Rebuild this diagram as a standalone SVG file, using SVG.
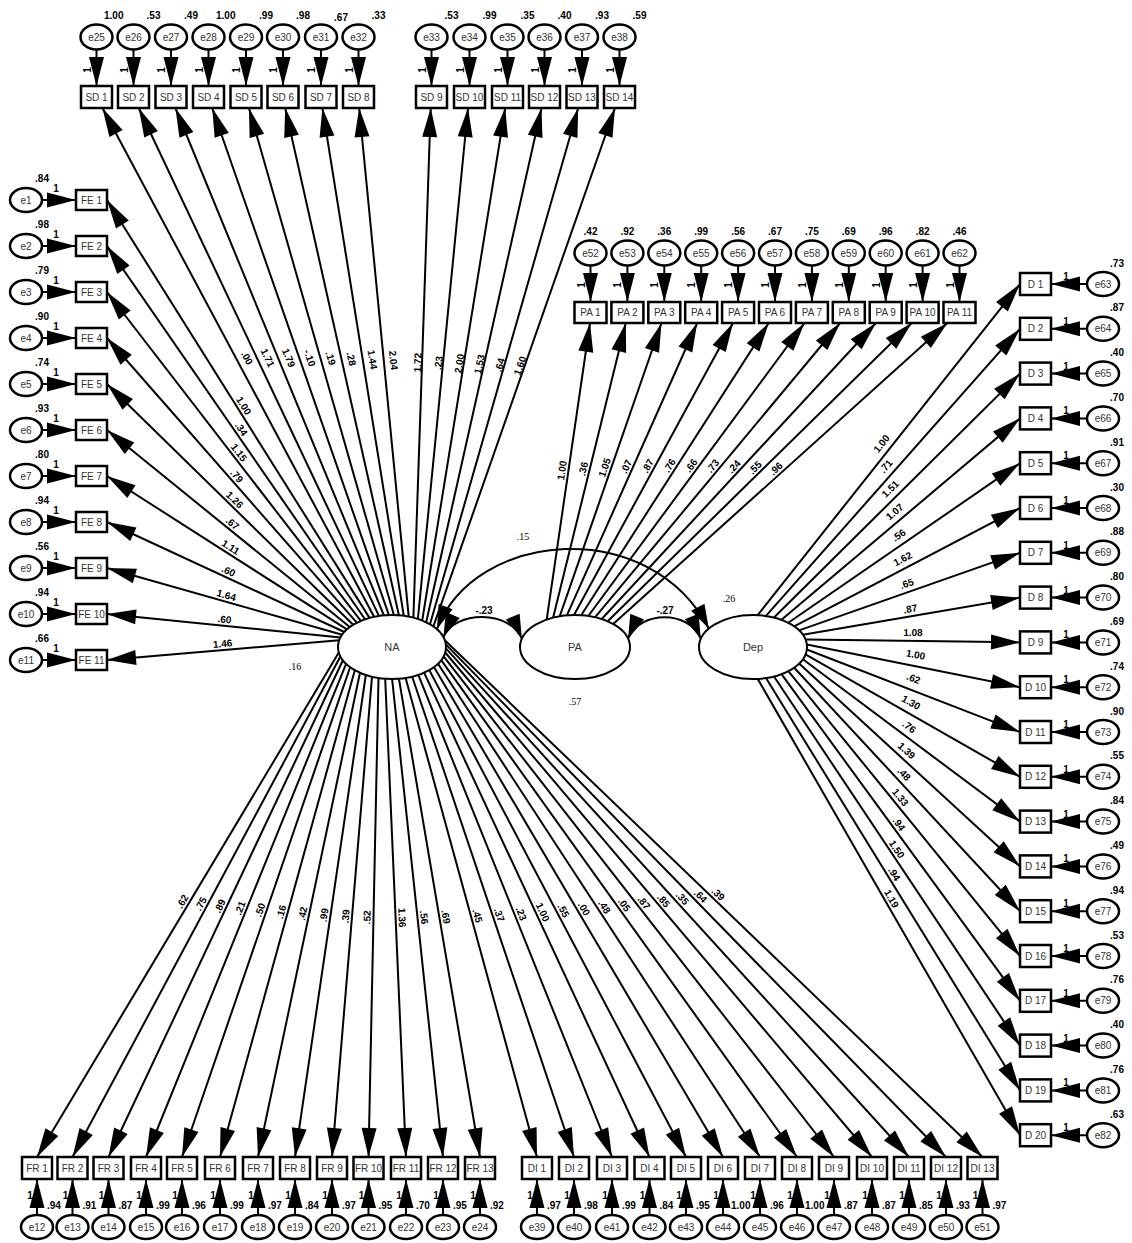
<svg xmlns="http://www.w3.org/2000/svg" width="1132" height="1243" viewBox="0 0 1132 1243">
<defs>
<style>
.bx{fill:#fff;stroke:#000;stroke-width:2.5}
.er{fill:#fff;stroke:#000;stroke-width:2.5}
.lv{fill:#fff;stroke:#000;stroke-width:2}
text{font-family:"Liberation Sans",Arial,sans-serif;font-size:10px}
.t{text-anchor:middle;fill:#333}
.v{font-weight:bold;fill:#000}
.m{text-anchor:middle}
.e{text-anchor:end}
.p{stroke:#000;stroke-width:2;fill:none;marker-end:url(#ah)}
.c{stroke:#000;stroke-width:2;fill:none;marker-start:url(#ah2);marker-end:url(#ah2)}
.sf{font-family:"Liberation Serif","Times New Roman",serif;font-size:10px;text-anchor:middle}
.lt{font-size:11px}
</style>
<marker id="ah" markerUnits="userSpaceOnUse" markerWidth="32" markerHeight="18" viewBox="-31 -9 32 18" refX="0" refY="0" orient="auto"><path d="M0,0 L-29,-7.5 L-29,7.5 Z" fill="#000"/></marker>
<marker id="ah2" markerUnits="userSpaceOnUse" markerWidth="26" markerHeight="18" viewBox="-25 -9 26 18" refX="0" refY="0" orient="auto-start-reverse"><path d="M0,0 L-24,-7.5 L-24,7.5 Z" fill="#000"/></marker>
</defs>
<rect x="0" y="0" width="1132" height="1243" fill="#fff"/>

<g id="connectors">
<path class="p" d="M369.5,617.9 L107,200"/>
<path class="p" d="M365,619.3 L107,246"/>
<path class="p" d="M360.8,620.9 L107,292"/>
<path class="p" d="M356.8,622.7 L107,338"/>
<path class="p" d="M353.2,624.8 L107,384"/>
<path class="p" d="M349.8,627 L107,430"/>
<path class="p" d="M346.9,629.4 L107,476"/>
<path class="p" d="M344.3,632 L107,522"/>
<path class="p" d="M342.2,634.7 L107,568"/>
<path class="p" d="M340.5,637.5 L107,614"/>
<path class="p" d="M339.2,640.3 L107,660"/>
<path class="p" d="M374.1,616.8 L102.4,108"/>
<path class="p" d="M378.9,615.9 L138.7,108"/>
<path class="p" d="M383.9,615.4 L175.4,108"/>
<path class="p" d="M388.9,615.1 L212.2,108"/>
<path class="p" d="M393.9,615 L248.9,108"/>
<path class="p" d="M398.9,615.3 L285.2,108"/>
<path class="p" d="M403.8,615.8 L322.4,108"/>
<path class="p" d="M408.7,616.6 L359.2,108"/>
<path class="p" d="M413.4,617.6 L430.7,108"/>
<path class="p" d="M417.9,618.9 L468,108"/>
<path class="p" d="M422.2,620.5 L505.2,108"/>
<path class="p" d="M426.2,622.2 L541.5,108"/>
<path class="p" d="M430,624.3 L578.2,108"/>
<path class="p" d="M433.4,626.4 L615,108"/>
<path class="p" d="M338.8,652.6 L37,1157"/>
<path class="p" d="M340.4,656.5 L72.5,1157"/>
<path class="p" d="M342.9,660.3 L108.5,1157"/>
<path class="p" d="M346.1,663.9 L146,1157"/>
<path class="p" d="M350.1,667.2 L182,1157"/>
<path class="p" d="M354.8,670.2 L220,1157"/>
<path class="p" d="M360,672.8 L258,1157"/>
<path class="p" d="M365.8,675 L295,1157"/>
<path class="p" d="M372,676.7 L332,1157"/>
<path class="p" d="M378.5,678 L368.5,1157"/>
<path class="p" d="M385.2,678.7 L406,1157"/>
<path class="p" d="M392.1,679 L443,1157"/>
<path class="p" d="M398.9,678.7 L480,1157"/>
<path class="p" d="M405.6,678 L537,1157"/>
<path class="p" d="M412.2,676.7 L574,1157"/>
<path class="p" d="M418.3,674.9 L612,1157"/>
<path class="p" d="M424.1,672.7 L649.5,1157"/>
<path class="p" d="M429.3,670.1 L686,1157"/>
<path class="p" d="M434,667.1 L723,1157"/>
<path class="p" d="M438,663.8 L760,1157"/>
<path class="p" d="M441.2,660.2 L797,1157"/>
<path class="p" d="M443.6,656.4 L834,1157"/>
<path class="p" d="M445.2,652.5 L872,1157"/>
<path class="p" d="M445.9,648.4 L909,1157"/>
<path class="p" d="M445.8,644.4 L946,1157"/>
<path class="p" d="M444.8,640.3 L982.5,1157"/>
<path class="p" d="M546.7,619.6 L590,323"/>
<path class="p" d="M553.1,617.7 L625.8,323"/>
<path class="p" d="M559.8,616.2 L661.5,323"/>
<path class="p" d="M566.9,615.4 L697.2,323"/>
<path class="p" d="M574,615 L733,323"/>
<path class="p" d="M581.2,615.2 L768.7,323"/>
<path class="p" d="M588.3,616 L804.5,323"/>
<path class="p" d="M595.2,617.2 L840.2,323"/>
<path class="p" d="M601.7,619 L875.9,323"/>
<path class="p" d="M607.7,621.3 L911.7,323"/>
<path class="p" d="M613.2,624 L947.4,323"/>
<path class="p" d="M757.7,615.1 L1020,284"/>
<path class="p" d="M766,615.9 L1020,328.8"/>
<path class="p" d="M774,617.5 L1020,373.6"/>
<path class="p" d="M781.5,619.8 L1020,418.4"/>
<path class="p" d="M788.3,622.8 L1020,463.2"/>
<path class="p" d="M794.2,626.3 L1020,508"/>
<path class="p" d="M799.1,630.4 L1020,552.8"/>
<path class="p" d="M802.9,634.8 L1020,597.6"/>
<path class="p" d="M805.5,639.6 L1020,642.4"/>
<path class="p" d="M806.8,644.5 L1020,687.2"/>
<path class="p" d="M806.8,649.5 L1020,732"/>
<path class="p" d="M805.5,654.4 L1020,776.8"/>
<path class="p" d="M802.9,659.2 L1020,821.6"/>
<path class="p" d="M799.1,663.6 L1020,866.4"/>
<path class="p" d="M794.2,667.7 L1020,911.2"/>
<path class="p" d="M788.3,671.2 L1020,956"/>
<path class="p" d="M781.5,674.2 L1020,1000.8"/>
<path class="p" d="M774,676.5 L1020,1045.6"/>
<path class="p" d="M766,678.1 L1020,1090.4"/>
<path class="p" d="M757.7,678.9 L1020,1135.2"/>
<path class="c" d="M443.4,637.1 C455,610 510,610 521.9,638.7"/>
<path class="c" d="M628,638.7 C640,610 689,610 700.8,638.7"/>
<path class="c" d="M437,629 C475,530 650,515 708.8,628.6"/>
<text class="v m" x="484" y="614">-.23</text>
<text class="v m" x="665" y="614">-.27</text>
<text class="sf" x="523" y="540">.15</text>

<path class="p" d="M96.5,49.5 L96.5,86"/><path class="p" d="M133.5,49.5 L133.5,86"/><path class="p" d="M171,49.5 L171,86"/><path class="p" d="M208.5,49.5 L208.5,86"/><path class="p" d="M246,49.5 L246,86"/><path class="p" d="M283,49.5 L283,86"/><path class="p" d="M321,49.5 L321,86"/><path class="p" d="M358.5,49.5 L358.5,86"/><path class="p" d="M431.5,49.5 L431.5,86"/><path class="p" d="M469.5,49.5 L469.5,86"/><path class="p" d="M507.5,49.5 L507.5,86"/><path class="p" d="M544.5,49.5 L544.5,86"/><path class="p" d="M582,49.5 L582,86"/><path class="p" d="M619.5,49.5 L619.5,86"/>
<g class="v m">
<text transform="translate(90.5,70) rotate(-90)">1</text><text transform="translate(127.5,70) rotate(-90)">1</text><text transform="translate(165,70) rotate(-90)">1</text><text transform="translate(202.5,70) rotate(-90)">1</text><text transform="translate(240,70) rotate(-90)">1</text><text transform="translate(277,70) rotate(-90)">1</text><text transform="translate(315,70) rotate(-90)">1</text><text transform="translate(352.5,70) rotate(-90)">1</text><text transform="translate(425.5,70) rotate(-90)">1</text><text transform="translate(463.5,70) rotate(-90)">1</text><text transform="translate(501.5,70) rotate(-90)">1</text><text transform="translate(538.5,70) rotate(-90)">1</text><text transform="translate(576,70) rotate(-90)">1</text><text transform="translate(613.5,70) rotate(-90)">1</text>
</g>
<path class="p" d="M590.5,265.5 L590.5,302"/><path class="p" d="M627.4,265.5 L627.4,302"/><path class="p" d="M664.3,265.5 L664.3,302"/><path class="p" d="M701.2,265.5 L701.2,302"/><path class="p" d="M738.1,265.5 L738.1,302"/><path class="p" d="M775,265.5 L775,302"/><path class="p" d="M811.9,265.5 L811.9,302"/><path class="p" d="M848.8,265.5 L848.8,302"/><path class="p" d="M885.7,265.5 L885.7,302"/><path class="p" d="M922.6,265.5 L922.6,302"/><path class="p" d="M959.5,265.5 L959.5,302"/>
<g class="v m">
<text transform="translate(584.5,285) rotate(-90)">1</text><text transform="translate(621.4,285) rotate(-90)">1</text><text transform="translate(658.3,285) rotate(-90)">1</text><text transform="translate(695.2,285) rotate(-90)">1</text><text transform="translate(732.1,285) rotate(-90)">1</text><text transform="translate(769,285) rotate(-90)">1</text><text transform="translate(805.9,285) rotate(-90)">1</text><text transform="translate(842.8,285) rotate(-90)">1</text><text transform="translate(879.7,285) rotate(-90)">1</text><text transform="translate(916.6,285) rotate(-90)">1</text><text transform="translate(953.5,285) rotate(-90)">1</text>
</g>
<path class="p" d="M42,200 L76,200"/><path class="p" d="M42,246 L76,246"/><path class="p" d="M42,292 L76,292"/><path class="p" d="M42,338 L76,338"/><path class="p" d="M42,384 L76,384"/><path class="p" d="M42,430 L76,430"/><path class="p" d="M42,476 L76,476"/><path class="p" d="M42,522 L76,522"/><path class="p" d="M42,568 L76,568"/><path class="p" d="M42,614 L76,614"/><path class="p" d="M42,660 L76,660"/>
<g class="v m">
<text x="56" y="192">1</text><text x="56" y="238">1</text><text x="56" y="284">1</text><text x="56" y="330">1</text><text x="56" y="376">1</text><text x="56" y="422">1</text><text x="56" y="468">1</text><text x="56" y="514">1</text><text x="56" y="560">1</text><text x="56" y="606">1</text><text x="56" y="652">1</text>
</g>
<path class="p" d="M1087,284 L1051,284"/><path class="p" d="M1087,328.8 L1051,328.8"/><path class="p" d="M1087,373.6 L1051,373.6"/><path class="p" d="M1087,418.4 L1051,418.4"/><path class="p" d="M1087,463.2 L1051,463.2"/><path class="p" d="M1087,508 L1051,508"/><path class="p" d="M1087,552.8 L1051,552.8"/><path class="p" d="M1087,597.6 L1051,597.6"/><path class="p" d="M1087,642.4 L1051,642.4"/><path class="p" d="M1087,687.2 L1051,687.2"/><path class="p" d="M1087,732 L1051,732"/><path class="p" d="M1087,776.8 L1051,776.8"/><path class="p" d="M1087,821.6 L1051,821.6"/><path class="p" d="M1087,866.4 L1051,866.4"/><path class="p" d="M1087,911.2 L1051,911.2"/><path class="p" d="M1087,956 L1051,956"/><path class="p" d="M1087,1000.8 L1051,1000.8"/><path class="p" d="M1087,1045.6 L1051,1045.6"/><path class="p" d="M1087,1090.4 L1051,1090.4"/><path class="p" d="M1087,1135.2 L1051,1135.2"/>
<g class="v m">
<text x="1066" y="280">1</text><text x="1066" y="324.8">1</text><text x="1066" y="369.6">1</text><text x="1066" y="414.4">1</text><text x="1066" y="459.2">1</text><text x="1066" y="504">1</text><text x="1066" y="548.8">1</text><text x="1066" y="593.6">1</text><text x="1066" y="638.4">1</text><text x="1066" y="683.2">1</text><text x="1066" y="728">1</text><text x="1066" y="772.8">1</text><text x="1066" y="817.6">1</text><text x="1066" y="862.4">1</text><text x="1066" y="907.2">1</text><text x="1066" y="952">1</text><text x="1066" y="996.8">1</text><text x="1066" y="1041.6">1</text><text x="1066" y="1086.4">1</text><text x="1066" y="1131.2">1</text>
</g>
<path class="p" d="M37,1215 L37,1179"/><path class="p" d="M72.5,1215 L72.5,1179"/><path class="p" d="M108.5,1215 L108.5,1179"/><path class="p" d="M146,1215 L146,1179"/><path class="p" d="M182,1215 L182,1179"/><path class="p" d="M220,1215 L220,1179"/><path class="p" d="M258,1215 L258,1179"/><path class="p" d="M295,1215 L295,1179"/><path class="p" d="M332,1215 L332,1179"/><path class="p" d="M368.5,1215 L368.5,1179"/><path class="p" d="M406,1215 L406,1179"/><path class="p" d="M443,1215 L443,1179"/><path class="p" d="M480,1215 L480,1179"/>
<path class="p" d="M537,1215 L537,1179"/><path class="p" d="M574,1215 L574,1179"/><path class="p" d="M612,1215 L612,1179"/><path class="p" d="M649.5,1215 L649.5,1179"/><path class="p" d="M686,1215 L686,1179"/><path class="p" d="M723,1215 L723,1179"/><path class="p" d="M760,1215 L760,1179"/><path class="p" d="M797,1215 L797,1179"/><path class="p" d="M834,1215 L834,1179"/><path class="p" d="M872,1215 L872,1179"/><path class="p" d="M909,1215 L909,1179"/><path class="p" d="M946,1215 L946,1179"/><path class="p" d="M982.5,1215 L982.5,1179"/>
<g class="v m">
<text x="30" y="1199">1</text><text x="65.5" y="1199">1</text><text x="101.5" y="1199">1</text><text x="139" y="1199">1</text><text x="175" y="1199">1</text><text x="213" y="1199">1</text><text x="251" y="1199">1</text><text x="288" y="1199">1</text><text x="325" y="1199">1</text><text x="361.5" y="1199">1</text><text x="399" y="1199">1</text><text x="436" y="1199">1</text><text x="473" y="1199">1</text>
<text x="530" y="1199">1</text><text x="567" y="1199">1</text><text x="605" y="1199">1</text><text x="642.5" y="1199">1</text><text x="679" y="1199">1</text><text x="716" y="1199">1</text><text x="753" y="1199">1</text><text x="790" y="1199">1</text><text x="827" y="1199">1</text><text x="865" y="1199">1</text><text x="902" y="1199">1</text><text x="939" y="1199">1</text><text x="975.5" y="1199">1</text>
</g>

<g class="v m">
<text transform="translate(238.3,409) rotate(57.9)" y="-3">1.00</text>
<text transform="translate(236,432.7) rotate(55.4)" y="-3">.34</text>
<text transform="translate(233.9,456.5) rotate(52.4)" y="-3">1.15</text>
<text transform="translate(231.9,480.4) rotate(48.7)" y="-3">.79</text>
<text transform="translate(230.1,504.4) rotate(44.4)" y="-3">1.26</text>
<text transform="translate(228.4,528.5) rotate(39.1)" y="-3">.67</text>
<text transform="translate(227,552.7) rotate(32.6)" y="-3">1.11</text>
<text transform="translate(225.7,577) rotate(24.9)" y="-3">.60</text>
<text transform="translate(224.6,601.4) rotate(15.8)" y="-3">1.64</text>
<text transform="translate(223.8,625.8) rotate(5.8)" y="-3">.60</text>
<text transform="translate(223.1,650.2) rotate(-4.9)" y="-3">1.46</text>
<text transform="translate(241.3,361) rotate(61.9)" y="-3">.00</text>
<text transform="translate(261.8,360.6) rotate(64.7)" y="-3">1.71</text>
<text transform="translate(282.7,360.3) rotate(67.7)" y="-3">1.79</text>
<text transform="translate(303.6,360.2) rotate(70.8)" y="-3">-.10</text>
<text transform="translate(324.4,360.1) rotate(74)" y="-3">.19</text>
<text transform="translate(345.1,360.3) rotate(77.4)" y="-3">.28</text>
<text transform="translate(366.1,360.5) rotate(80.9)" y="-3">1.44</text>
<text transform="translate(387,360.9) rotate(84.4)" y="-3">2.04</text>
<text transform="translate(422.1,362.8) rotate(-88.1)" y="-1">1.72</text>
<text transform="translate(443,363.5) rotate(-84.4)" y="-1">.23</text>
<text transform="translate(463.7,364.3) rotate(-80.8)" y="-1">2.00</text>
<text transform="translate(483.9,365.1) rotate(-77.4)" y="-1">1.53</text>
<text transform="translate(504.1,366.2) rotate(-74)" y="-1">.64</text>
<text transform="translate(524.2,367.2) rotate(-70.7)" y="-1">1.60</text>
<text transform="translate(187.9,904.8) rotate(-59.1)" y="-3">.62</text>
<text transform="translate(206.5,906.8) rotate(-61.8)" y="-3">.75</text>
<text transform="translate(225.7,908.7) rotate(-64.7)" y="-3">.89</text>
<text transform="translate(246.1,910.5) rotate(-67.9)" y="-3">.21</text>
<text transform="translate(266.1,912.1) rotate(-71.1)" y="-3">.50</text>
<text transform="translate(287.4,913.6) rotate(-74.5)" y="-3">.16</text>
<text transform="translate(309,914.9) rotate(-78.1)" y="-3">.42</text>
<text transform="translate(330.4,916) rotate(-81.6)" y="-3">.99</text>
<text transform="translate(352,916.9) rotate(-85.2)" y="-3">.39</text>
<text transform="translate(373.5,917.5) rotate(-88.8)" y="-3">.52</text>
<text transform="translate(395.6,917.9) rotate(87.5)" y="-3">1.36</text>
<text transform="translate(417.6,918) rotate(83.9)" y="-3">.56</text>
<text transform="translate(439.5,917.9) rotate(80.4)" y="-3">.69</text>
<text transform="translate(471.3,917.5) rotate(74.7)" y="-3">.45</text>
<text transform="translate(493.1,916.9) rotate(71.4)" y="-3">.37</text>
<text transform="translate(515.2,916) rotate(68.1)" y="-3">.23</text>
<text transform="translate(536.8,914.9) rotate(65)" y="-3">1.00</text>
<text transform="translate(557.7,913.6) rotate(62.2)" y="-3">.55</text>
<text transform="translate(578.5,912.1) rotate(59.5)" y="-3">.00</text>
<text transform="translate(599,910.4) rotate(56.9)" y="-3">.48</text>
<text transform="translate(619.1,908.6) rotate(54.4)" y="-3">.05</text>
<text transform="translate(638.8,906.7) rotate(52.1)" y="-3">.87</text>
<text transform="translate(658.6,904.8) rotate(49.8)" y="-3">.85</text>
<text transform="translate(677.5,902.7) rotate(47.7)" y="-3">.35</text>
<text transform="translate(695.9,900.7) rotate(45.7)" y="-3">.64</text>
<text transform="translate(713.7,898.7) rotate(43.9)" y="-3">.39</text>
<text transform="translate(568.4,471.3) rotate(-81.7)" y="-3">1.00</text>
<text transform="translate(589.5,470.4) rotate(-76.1)" y="-3">.36</text>
<text transform="translate(610.7,469.6) rotate(-70.9)" y="-3">1.05</text>
<text transform="translate(632.1,469.2) rotate(-66)" y="-3">.07</text>
<text transform="translate(653.5,469) rotate(-61.4)" y="-3">.87</text>
<text transform="translate(675,469.1) rotate(-57.3)" y="-3">.76</text>
<text transform="translate(696.4,469.5) rotate(-53.6)" y="-3">.66</text>
<text transform="translate(717.7,470.1) rotate(-50.2)" y="-3">.73</text>
<text transform="translate(738.8,471) rotate(-47.2)" y="-3">.24</text>
<text transform="translate(759.7,472.2) rotate(-44.5)" y="-3">.55</text>
<text transform="translate(780.3,473.5) rotate(-42)" y="-3">.96</text>
<text transform="translate(888.9,449.6) rotate(-51.6)" y="-6">1.00</text>
<text transform="translate(893,472.4) rotate(-48.5)" y="-6">.71</text>
<text transform="translate(897,495.6) rotate(-44.8)" y="-6">1.51</text>
<text transform="translate(900.8,519.1) rotate(-40.2)" y="-6">1.07</text>
<text transform="translate(904.2,543) rotate(-34.6)" y="-6">.56</text>
<text transform="translate(907.1,567.2) rotate(-27.7)" y="-6">1.62</text>
<text transform="translate(909.6,591.6) rotate(-19.4)" y="-5">.65</text>
<text transform="translate(911.5,616.2) rotate(-9.7)" y="-4">.87</text>
<text transform="translate(912.8,641) rotate(0.7)" y="-5">1.08</text>
<text transform="translate(913.4,665.9) rotate(11.3)" y="-8">1.00</text>
<text transform="translate(909.4,689.3) rotate(21.2)" y="-8">.62</text>
<text transform="translate(905.8,711.6) rotate(29.7)" y="-7">1.30</text>
<text transform="translate(903.5,734.4) rotate(36.8)" y="-6">.76</text>
<text transform="translate(900.8,756.9) rotate(42.6)" y="-5">1.39</text>
<text transform="translate(898.6,779.3) rotate(47.2)" y="-4">.48</text>
<text transform="translate(895.4,801.4) rotate(50.9)" y="-3">1.33</text>
<text transform="translate(893.7,827.8) rotate(53.9)" y="-3">.94</text>
<text transform="translate(891.4,852.8) rotate(56.3)" y="-3">1.50</text>
<text transform="translate(888.8,877.5) rotate(58.4)" y="-3">.94</text>
<text transform="translate(885.9,901.9) rotate(60.1)" y="-3">1.19</text>
</g>
</g>

<g id="NA"><ellipse class="lv" cx="392" cy="647" rx="54" ry="32"/><text class="t lt" x="392" y="651">NA</text><text class="sf" x="295" y="670">.16</text></g>
<g id="PA"><ellipse class="lv" cx="575" cy="647" rx="55" ry="32"/><text class="t lt" x="575" y="651">PA</text><text class="sf" x="575" y="705">.57</text></g>
<g id="Dep"><ellipse class="lv" cx="753" cy="647" rx="54" ry="32"/><text class="t lt" x="753" y="651">Dep</text><text class="sf" x="729" y="602">.26</text></g>

<g id="SD1"><rect class="bx" x="81" y="86" width="31" height="22"/><text class="t" x="96.5" y="100.6">SD 1</text></g>
<g id="SD2"><rect class="bx" x="118" y="86" width="31" height="22"/><text class="t" x="133.5" y="100.6">SD 2</text></g>
<g id="SD3"><rect class="bx" x="155.5" y="86" width="31" height="22"/><text class="t" x="171" y="100.6">SD 3</text></g>
<g id="SD4"><rect class="bx" x="193" y="86" width="31" height="22"/><text class="t" x="208.5" y="100.6">SD 4</text></g>
<g id="SD5"><rect class="bx" x="230.5" y="86" width="31" height="22"/><text class="t" x="246" y="100.6">SD 5</text></g>
<g id="SD6"><rect class="bx" x="267.5" y="86" width="31" height="22"/><text class="t" x="283" y="100.6">SD 6</text></g>
<g id="SD7"><rect class="bx" x="305.5" y="86" width="31" height="22"/><text class="t" x="321" y="100.6">SD 7</text></g>
<g id="SD8"><rect class="bx" x="343" y="86" width="31" height="22"/><text class="t" x="358.5" y="100.6">SD 8</text></g>
<g id="SD9"><rect class="bx" x="416" y="86" width="31" height="22"/><text class="t" x="431.5" y="100.6">SD 9</text></g>
<g id="SD10"><rect class="bx" x="454" y="86" width="31" height="22"/><text class="t" x="469.5" y="100.6">SD 10</text></g>
<g id="SD11"><rect class="bx" x="492" y="86" width="31" height="22"/><text class="t" x="507.5" y="100.6">SD 11</text></g>
<g id="SD12"><rect class="bx" x="529" y="86" width="31" height="22"/><text class="t" x="544.5" y="100.6">SD 12</text></g>
<g id="SD13"><rect class="bx" x="566.5" y="86" width="31" height="22"/><text class="t" x="582" y="100.6">SD 13</text></g>
<g id="SD14"><rect class="bx" x="604" y="86" width="31" height="22"/><text class="t" x="619.5" y="100.6">SD 14</text></g>

<g id="e25"><ellipse class="er" cx="96.5" cy="37" rx="16" ry="12.5"/><text class="t" x="96.5" y="40.6">e25</text><text class="v e" x="123.5" y="19">1.00</text></g>
<g id="e26"><ellipse class="er" cx="133.5" cy="37" rx="16" ry="12.5"/><text class="t" x="133.5" y="40.6">e26</text><text class="v e" x="160.5" y="19">.53</text></g>
<g id="e27"><ellipse class="er" cx="171" cy="37" rx="16" ry="12.5"/><text class="t" x="171" y="40.6">e27</text><text class="v e" x="198" y="19">.49</text></g>
<g id="e28"><ellipse class="er" cx="208.5" cy="37" rx="16" ry="12.5"/><text class="t" x="208.5" y="40.6">e28</text><text class="v e" x="235.5" y="19">1.00</text></g>
<g id="e29"><ellipse class="er" cx="246" cy="37" rx="16" ry="12.5"/><text class="t" x="246" y="40.6">e29</text><text class="v e" x="273" y="19">.99</text></g>
<g id="e30"><ellipse class="er" cx="283" cy="37" rx="16" ry="12.5"/><text class="t" x="283" y="40.6">e30</text><text class="v e" x="310" y="19">.98</text></g>
<g id="e31"><ellipse class="er" cx="321" cy="37" rx="16" ry="12.5"/><text class="t" x="321" y="40.6">e31</text><text class="v e" x="348" y="21">.67</text></g>
<g id="e32"><ellipse class="er" cx="358.5" cy="37" rx="16" ry="12.5"/><text class="t" x="358.5" y="40.6">e32</text><text class="v e" x="385.5" y="19">.33</text></g>
<g id="e33"><ellipse class="er" cx="431.5" cy="37" rx="16" ry="12.5"/><text class="t" x="431.5" y="40.6">e33</text><text class="v e" x="458.5" y="19">.53</text></g>
<g id="e34"><ellipse class="er" cx="469.5" cy="37" rx="16" ry="12.5"/><text class="t" x="469.5" y="40.6">e34</text><text class="v e" x="496.5" y="19">.99</text></g>
<g id="e35"><ellipse class="er" cx="507.5" cy="37" rx="16" ry="12.5"/><text class="t" x="507.5" y="40.6">e35</text><text class="v e" x="534.5" y="19">.35</text></g>
<g id="e36"><ellipse class="er" cx="544.5" cy="37" rx="16" ry="12.5"/><text class="t" x="544.5" y="40.6">e36</text><text class="v e" x="571.5" y="19">.40</text></g>
<g id="e37"><ellipse class="er" cx="582" cy="37" rx="16" ry="12.5"/><text class="t" x="582" y="40.6">e37</text><text class="v e" x="609" y="19">.93</text></g>
<g id="e38"><ellipse class="er" cx="619.5" cy="37" rx="16" ry="12.5"/><text class="t" x="619.5" y="40.6">e38</text><text class="v e" x="646.5" y="19">.59</text></g>

<g id="PA1"><rect class="bx" x="574.5" y="302" width="32" height="21"/><text class="t" x="590.5" y="316.1">PA 1</text></g>
<g id="PA2"><rect class="bx" x="611.4" y="302" width="32" height="21"/><text class="t" x="627.4" y="316.1">PA 2</text></g>
<g id="PA3"><rect class="bx" x="648.3" y="302" width="32" height="21"/><text class="t" x="664.3" y="316.1">PA 3</text></g>
<g id="PA4"><rect class="bx" x="685.2" y="302" width="32" height="21"/><text class="t" x="701.2" y="316.1">PA 4</text></g>
<g id="PA5"><rect class="bx" x="722.1" y="302" width="32" height="21"/><text class="t" x="738.1" y="316.1">PA 5</text></g>
<g id="PA6"><rect class="bx" x="759" y="302" width="32" height="21"/><text class="t" x="775" y="316.1">PA 6</text></g>
<g id="PA7"><rect class="bx" x="795.9" y="302" width="32" height="21"/><text class="t" x="811.9" y="316.1">PA 7</text></g>
<g id="PA8"><rect class="bx" x="832.8" y="302" width="32" height="21"/><text class="t" x="848.8" y="316.1">PA 8</text></g>
<g id="PA9"><rect class="bx" x="869.7" y="302" width="32" height="21"/><text class="t" x="885.7" y="316.1">PA 9</text></g>
<g id="PA10"><rect class="bx" x="906.6" y="302" width="32" height="21"/><text class="t" x="922.6" y="316.1">PA 10</text></g>
<g id="PA11"><rect class="bx" x="943.5" y="302" width="32" height="21"/><text class="t" x="959.5" y="316.1">PA 11</text></g>

<g id="e52"><ellipse class="er" cx="590.5" cy="253" rx="16" ry="12.5"/><text class="t" x="590.5" y="256.6">e52</text><text class="v m" x="590.5" y="235">.42</text></g>
<g id="e53"><ellipse class="er" cx="627.4" cy="253" rx="16" ry="12.5"/><text class="t" x="627.4" y="256.6">e53</text><text class="v m" x="627.4" y="235">.92</text></g>
<g id="e54"><ellipse class="er" cx="664.3" cy="253" rx="16" ry="12.5"/><text class="t" x="664.3" y="256.6">e54</text><text class="v m" x="664.3" y="235">.36</text></g>
<g id="e55"><ellipse class="er" cx="701.2" cy="253" rx="16" ry="12.5"/><text class="t" x="701.2" y="256.6">e55</text><text class="v m" x="701.2" y="235">.99</text></g>
<g id="e56"><ellipse class="er" cx="738.1" cy="253" rx="16" ry="12.5"/><text class="t" x="738.1" y="256.6">e56</text><text class="v m" x="738.1" y="235">.56</text></g>
<g id="e57"><ellipse class="er" cx="775" cy="253" rx="16" ry="12.5"/><text class="t" x="775" y="256.6">e57</text><text class="v m" x="775" y="235">.67</text></g>
<g id="e58"><ellipse class="er" cx="811.9" cy="253" rx="16" ry="12.5"/><text class="t" x="811.9" y="256.6">e58</text><text class="v m" x="811.9" y="235">.75</text></g>
<g id="e59"><ellipse class="er" cx="848.8" cy="253" rx="16" ry="12.5"/><text class="t" x="848.8" y="256.6">e59</text><text class="v m" x="848.8" y="235">.69</text></g>
<g id="e60"><ellipse class="er" cx="885.7" cy="253" rx="16" ry="12.5"/><text class="t" x="885.7" y="256.6">e60</text><text class="v m" x="885.7" y="235">.96</text></g>
<g id="e61"><ellipse class="er" cx="922.6" cy="253" rx="16" ry="12.5"/><text class="t" x="922.6" y="256.6">e61</text><text class="v m" x="922.6" y="235">.82</text></g>
<g id="e62"><ellipse class="er" cx="959.5" cy="253" rx="16" ry="12.5"/><text class="t" x="959.5" y="256.6">e62</text><text class="v m" x="959.5" y="235">.46</text></g>

<g id="FE1"><rect class="bx" x="76" y="190" width="31" height="20"/><text class="t" x="91.5" y="203.6">FE 1</text></g>
<g id="FE2"><rect class="bx" x="76" y="236" width="31" height="20"/><text class="t" x="91.5" y="249.6">FE 2</text></g>
<g id="FE3"><rect class="bx" x="76" y="282" width="31" height="20"/><text class="t" x="91.5" y="295.6">FE 3</text></g>
<g id="FE4"><rect class="bx" x="76" y="328" width="31" height="20"/><text class="t" x="91.5" y="341.6">FE 4</text></g>
<g id="FE5"><rect class="bx" x="76" y="374" width="31" height="20"/><text class="t" x="91.5" y="387.6">FE 5</text></g>
<g id="FE6"><rect class="bx" x="76" y="420" width="31" height="20"/><text class="t" x="91.5" y="433.6">FE 6</text></g>
<g id="FE7"><rect class="bx" x="76" y="466" width="31" height="20"/><text class="t" x="91.5" y="479.6">FE 7</text></g>
<g id="FE8"><rect class="bx" x="76" y="512" width="31" height="20"/><text class="t" x="91.5" y="525.6">FE 8</text></g>
<g id="FE9"><rect class="bx" x="76" y="558" width="31" height="20"/><text class="t" x="91.5" y="571.6">FE 9</text></g>
<g id="FE10"><rect class="bx" x="76" y="604" width="31" height="20"/><text class="t" x="91.5" y="617.6">FE 10</text></g>
<g id="FE11"><rect class="bx" x="76" y="650" width="31" height="20"/><text class="t" x="91.5" y="663.6">FE 11</text></g>

<g id="e1"><ellipse class="er" cx="26" cy="200" rx="16" ry="12"/><text class="t" x="26" y="203.6">e1</text><text class="v m" x="42" y="182">.84</text></g>
<g id="e2"><ellipse class="er" cx="26" cy="246" rx="16" ry="12"/><text class="t" x="26" y="249.6">e2</text><text class="v m" x="42" y="228">.98</text></g>
<g id="e3"><ellipse class="er" cx="26" cy="292" rx="16" ry="12"/><text class="t" x="26" y="295.6">e3</text><text class="v m" x="42" y="274">.79</text></g>
<g id="e4"><ellipse class="er" cx="26" cy="338" rx="16" ry="12"/><text class="t" x="26" y="341.6">e4</text><text class="v m" x="42" y="320">.90</text></g>
<g id="e5"><ellipse class="er" cx="26" cy="384" rx="16" ry="12"/><text class="t" x="26" y="387.6">e5</text><text class="v m" x="42" y="366">.74</text></g>
<g id="e6"><ellipse class="er" cx="26" cy="430" rx="16" ry="12"/><text class="t" x="26" y="433.6">e6</text><text class="v m" x="42" y="412">.93</text></g>
<g id="e7"><ellipse class="er" cx="26" cy="476" rx="16" ry="12"/><text class="t" x="26" y="479.6">e7</text><text class="v m" x="42" y="458">.80</text></g>
<g id="e8"><ellipse class="er" cx="26" cy="522" rx="16" ry="12"/><text class="t" x="26" y="525.6">e8</text><text class="v m" x="42" y="504">.94</text></g>
<g id="e9"><ellipse class="er" cx="26" cy="568" rx="16" ry="12"/><text class="t" x="26" y="571.6">e9</text><text class="v m" x="42" y="550">.56</text></g>
<g id="e10"><ellipse class="er" cx="26" cy="614" rx="16" ry="12"/><text class="t" x="26" y="617.6">e10</text><text class="v m" x="42" y="596">.94</text></g>
<g id="e11"><ellipse class="er" cx="26" cy="660" rx="16" ry="12"/><text class="t" x="26" y="663.6">e11</text><text class="v m" x="42" y="642">.66</text></g>

<g id="D1"><rect class="bx" x="1020" y="273" width="31" height="22"/><text class="t" x="1035.5" y="287.6">D 1</text></g>
<g id="D2"><rect class="bx" x="1020" y="317.8" width="31" height="22"/><text class="t" x="1035.5" y="332.4">D 2</text></g>
<g id="D3"><rect class="bx" x="1020" y="362.6" width="31" height="22"/><text class="t" x="1035.5" y="377.2">D 3</text></g>
<g id="D4"><rect class="bx" x="1020" y="407.4" width="31" height="22"/><text class="t" x="1035.5" y="422">D 4</text></g>
<g id="D5"><rect class="bx" x="1020" y="452.2" width="31" height="22"/><text class="t" x="1035.5" y="466.8">D 5</text></g>
<g id="D6"><rect class="bx" x="1020" y="497" width="31" height="22"/><text class="t" x="1035.5" y="511.6">D 6</text></g>
<g id="D7"><rect class="bx" x="1020" y="541.8" width="31" height="22"/><text class="t" x="1035.5" y="556.4">D 7</text></g>
<g id="D8"><rect class="bx" x="1020" y="586.6" width="31" height="22"/><text class="t" x="1035.5" y="601.2">D 8</text></g>
<g id="D9"><rect class="bx" x="1020" y="631.4" width="31" height="22"/><text class="t" x="1035.5" y="646">D 9</text></g>
<g id="D10"><rect class="bx" x="1020" y="676.2" width="31" height="22"/><text class="t" x="1035.5" y="690.8">D 10</text></g>
<g id="D11"><rect class="bx" x="1020" y="721" width="31" height="22"/><text class="t" x="1035.5" y="735.6">D 11</text></g>
<g id="D12"><rect class="bx" x="1020" y="765.8" width="31" height="22"/><text class="t" x="1035.5" y="780.4">D 12</text></g>
<g id="D13"><rect class="bx" x="1020" y="810.6" width="31" height="22"/><text class="t" x="1035.5" y="825.2">D 13</text></g>
<g id="D14"><rect class="bx" x="1020" y="855.4" width="31" height="22"/><text class="t" x="1035.5" y="870">D 14</text></g>
<g id="D15"><rect class="bx" x="1020" y="900.2" width="31" height="22"/><text class="t" x="1035.5" y="914.8">D 15</text></g>
<g id="D16"><rect class="bx" x="1020" y="945" width="31" height="22"/><text class="t" x="1035.5" y="959.6">D 16</text></g>
<g id="D17"><rect class="bx" x="1020" y="989.8" width="31" height="22"/><text class="t" x="1035.5" y="1004.4">D 17</text></g>
<g id="D18"><rect class="bx" x="1020" y="1034.6" width="31" height="22"/><text class="t" x="1035.5" y="1049.2">D 18</text></g>
<g id="D19"><rect class="bx" x="1020" y="1079.4" width="31" height="22"/><text class="t" x="1035.5" y="1094">D 19</text></g>
<g id="D20"><rect class="bx" x="1020" y="1124.2" width="31" height="22"/><text class="t" x="1035.5" y="1138.8">D 20</text></g>

<g id="e63"><ellipse class="er" cx="1103" cy="284" rx="16" ry="12"/><text class="t" x="1103" y="287.6">e63</text><text class="v m" x="1117" y="266.5">.73</text></g>
<g id="e64"><ellipse class="er" cx="1103" cy="328.8" rx="16" ry="12"/><text class="t" x="1103" y="332.4">e64</text><text class="v m" x="1117" y="311.3">.87</text></g>
<g id="e65"><ellipse class="er" cx="1103" cy="373.6" rx="16" ry="12"/><text class="t" x="1103" y="377.2">e65</text><text class="v m" x="1117" y="356.1">.40</text></g>
<g id="e66"><ellipse class="er" cx="1103" cy="418.4" rx="16" ry="12"/><text class="t" x="1103" y="422">e66</text><text class="v m" x="1117" y="400.9">.70</text></g>
<g id="e67"><ellipse class="er" cx="1103" cy="463.2" rx="16" ry="12"/><text class="t" x="1103" y="466.8">e67</text><text class="v m" x="1117" y="445.7">.91</text></g>
<g id="e68"><ellipse class="er" cx="1103" cy="508" rx="16" ry="12"/><text class="t" x="1103" y="511.6">e68</text><text class="v m" x="1117" y="490.5">.30</text></g>
<g id="e69"><ellipse class="er" cx="1103" cy="552.8" rx="16" ry="12"/><text class="t" x="1103" y="556.4">e69</text><text class="v m" x="1117" y="535.3">.88</text></g>
<g id="e70"><ellipse class="er" cx="1103" cy="597.6" rx="16" ry="12"/><text class="t" x="1103" y="601.2">e70</text><text class="v m" x="1117" y="580.1">.80</text></g>
<g id="e71"><ellipse class="er" cx="1103" cy="642.4" rx="16" ry="12"/><text class="t" x="1103" y="646">e71</text><text class="v m" x="1117" y="624.9">.69</text></g>
<g id="e72"><ellipse class="er" cx="1103" cy="687.2" rx="16" ry="12"/><text class="t" x="1103" y="690.8">e72</text><text class="v m" x="1117" y="669.7">.74</text></g>
<g id="e73"><ellipse class="er" cx="1103" cy="732" rx="16" ry="12"/><text class="t" x="1103" y="735.6">e73</text><text class="v m" x="1117" y="714.5">.90</text></g>
<g id="e74"><ellipse class="er" cx="1103" cy="776.8" rx="16" ry="12"/><text class="t" x="1103" y="780.4">e74</text><text class="v m" x="1117" y="759.3">.55</text></g>
<g id="e75"><ellipse class="er" cx="1103" cy="821.6" rx="16" ry="12"/><text class="t" x="1103" y="825.2">e75</text><text class="v m" x="1117" y="804.1">.84</text></g>
<g id="e76"><ellipse class="er" cx="1103" cy="866.4" rx="16" ry="12"/><text class="t" x="1103" y="870">e76</text><text class="v m" x="1117" y="848.9">.49</text></g>
<g id="e77"><ellipse class="er" cx="1103" cy="911.2" rx="16" ry="12"/><text class="t" x="1103" y="914.8">e77</text><text class="v m" x="1117" y="893.7">.94</text></g>
<g id="e78"><ellipse class="er" cx="1103" cy="956" rx="16" ry="12"/><text class="t" x="1103" y="959.6">e78</text><text class="v m" x="1117" y="938.5">.53</text></g>
<g id="e79"><ellipse class="er" cx="1103" cy="1000.8" rx="16" ry="12"/><text class="t" x="1103" y="1004.4">e79</text><text class="v m" x="1117" y="983.3">.76</text></g>
<g id="e80"><ellipse class="er" cx="1103" cy="1045.6" rx="16" ry="12"/><text class="t" x="1103" y="1049.2">e80</text><text class="v m" x="1117" y="1028.1">.40</text></g>
<g id="e81"><ellipse class="er" cx="1103" cy="1090.4" rx="16" ry="12"/><text class="t" x="1103" y="1094">e81</text><text class="v m" x="1117" y="1072.9">.76</text></g>
<g id="e82"><ellipse class="er" cx="1103" cy="1135.2" rx="16" ry="12"/><text class="t" x="1103" y="1138.8">e82</text><text class="v m" x="1117" y="1117.7">.63</text></g>

<g id="FR1"><rect class="bx" x="22" y="1157" width="30" height="22"/><text class="t" x="37" y="1171.6">FR 1</text></g>
<g id="FR2"><rect class="bx" x="57.5" y="1157" width="30" height="22"/><text class="t" x="72.5" y="1171.6">FR 2</text></g>
<g id="FR3"><rect class="bx" x="93.5" y="1157" width="30" height="22"/><text class="t" x="108.5" y="1171.6">FR 3</text></g>
<g id="FR4"><rect class="bx" x="131" y="1157" width="30" height="22"/><text class="t" x="146" y="1171.6">FR 4</text></g>
<g id="FR5"><rect class="bx" x="167" y="1157" width="30" height="22"/><text class="t" x="182" y="1171.6">FR 5</text></g>
<g id="FR6"><rect class="bx" x="205" y="1157" width="30" height="22"/><text class="t" x="220" y="1171.6">FR 6</text></g>
<g id="FR7"><rect class="bx" x="243" y="1157" width="30" height="22"/><text class="t" x="258" y="1171.6">FR 7</text></g>
<g id="FR8"><rect class="bx" x="280" y="1157" width="30" height="22"/><text class="t" x="295" y="1171.6">FR 8</text></g>
<g id="FR9"><rect class="bx" x="317" y="1157" width="30" height="22"/><text class="t" x="332" y="1171.6">FR 9</text></g>
<g id="FR10"><rect class="bx" x="353.5" y="1157" width="30" height="22"/><text class="t" x="368.5" y="1171.6">FR 10</text></g>
<g id="FR11"><rect class="bx" x="391" y="1157" width="30" height="22"/><text class="t" x="406" y="1171.6">FR 11</text></g>
<g id="FR12"><rect class="bx" x="428" y="1157" width="30" height="22"/><text class="t" x="443" y="1171.6">FR 12</text></g>
<g id="FR13"><rect class="bx" x="465" y="1157" width="30" height="22"/><text class="t" x="480" y="1171.6">FR 13</text></g>

<g id="e12"><ellipse class="er" cx="37" cy="1227" rx="16" ry="12"/><text class="t" x="37" y="1230.6">e12</text><text class="v" x="47" y="1209">.94</text></g>
<g id="e13"><ellipse class="er" cx="72.5" cy="1227" rx="16" ry="12"/><text class="t" x="72.5" y="1230.6">e13</text><text class="v" x="82.5" y="1209">.91</text></g>
<g id="e14"><ellipse class="er" cx="108.5" cy="1227" rx="16" ry="12"/><text class="t" x="108.5" y="1230.6">e14</text><text class="v" x="118.5" y="1209">.87</text></g>
<g id="e15"><ellipse class="er" cx="146" cy="1227" rx="16" ry="12"/><text class="t" x="146" y="1230.6">e15</text><text class="v" x="156" y="1209">.99</text></g>
<g id="e16"><ellipse class="er" cx="182" cy="1227" rx="16" ry="12"/><text class="t" x="182" y="1230.6">e16</text><text class="v" x="192" y="1209">.96</text></g>
<g id="e17"><ellipse class="er" cx="220" cy="1227" rx="16" ry="12"/><text class="t" x="220" y="1230.6">e17</text><text class="v" x="230" y="1209">.99</text></g>
<g id="e18"><ellipse class="er" cx="258" cy="1227" rx="16" ry="12"/><text class="t" x="258" y="1230.6">e18</text><text class="v" x="268" y="1209">.97</text></g>
<g id="e19"><ellipse class="er" cx="295" cy="1227" rx="16" ry="12"/><text class="t" x="295" y="1230.6">e19</text><text class="v" x="305" y="1209">.84</text></g>
<g id="e20"><ellipse class="er" cx="332" cy="1227" rx="16" ry="12"/><text class="t" x="332" y="1230.6">e20</text><text class="v" x="342" y="1209">.97</text></g>
<g id="e21"><ellipse class="er" cx="368.5" cy="1227" rx="16" ry="12"/><text class="t" x="368.5" y="1230.6">e21</text><text class="v" x="378.5" y="1209">.95</text></g>
<g id="e22"><ellipse class="er" cx="406" cy="1227" rx="16" ry="12"/><text class="t" x="406" y="1230.6">e22</text><text class="v" x="416" y="1209">.70</text></g>
<g id="e23"><ellipse class="er" cx="443" cy="1227" rx="16" ry="12"/><text class="t" x="443" y="1230.6">e23</text><text class="v" x="453" y="1209">.95</text></g>
<g id="e24"><ellipse class="er" cx="480" cy="1227" rx="16" ry="12"/><text class="t" x="480" y="1230.6">e24</text><text class="v" x="490" y="1209">.92</text></g>

<g id="DI1"><rect class="bx" x="522" y="1157" width="30" height="22"/><text class="t" x="537" y="1171.6">DI 1</text></g>
<g id="DI2"><rect class="bx" x="559" y="1157" width="30" height="22"/><text class="t" x="574" y="1171.6">DI 2</text></g>
<g id="DI3"><rect class="bx" x="597" y="1157" width="30" height="22"/><text class="t" x="612" y="1171.6">DI 3</text></g>
<g id="DI4"><rect class="bx" x="634.5" y="1157" width="30" height="22"/><text class="t" x="649.5" y="1171.6">DI 4</text></g>
<g id="DI5"><rect class="bx" x="671" y="1157" width="30" height="22"/><text class="t" x="686" y="1171.6">DI 5</text></g>
<g id="DI6"><rect class="bx" x="708" y="1157" width="30" height="22"/><text class="t" x="723" y="1171.6">DI 6</text></g>
<g id="DI7"><rect class="bx" x="745" y="1157" width="30" height="22"/><text class="t" x="760" y="1171.6">DI 7</text></g>
<g id="DI8"><rect class="bx" x="782" y="1157" width="30" height="22"/><text class="t" x="797" y="1171.6">DI 8</text></g>
<g id="DI9"><rect class="bx" x="819" y="1157" width="30" height="22"/><text class="t" x="834" y="1171.6">DI 9</text></g>
<g id="DI10"><rect class="bx" x="857" y="1157" width="30" height="22"/><text class="t" x="872" y="1171.6">DI 10</text></g>
<g id="DI11"><rect class="bx" x="894" y="1157" width="30" height="22"/><text class="t" x="909" y="1171.6">DI 11</text></g>
<g id="DI12"><rect class="bx" x="931" y="1157" width="30" height="22"/><text class="t" x="946" y="1171.6">DI 12</text></g>
<g id="DI13"><rect class="bx" x="967.5" y="1157" width="30" height="22"/><text class="t" x="982.5" y="1171.6">DI 13</text></g>

<g id="e39"><ellipse class="er" cx="537" cy="1227" rx="16" ry="12"/><text class="t" x="537" y="1230.6">e39</text><text class="v" x="547" y="1209">.97</text></g>
<g id="e40"><ellipse class="er" cx="574" cy="1227" rx="16" ry="12"/><text class="t" x="574" y="1230.6">e40</text><text class="v" x="584" y="1209">.98</text></g>
<g id="e41"><ellipse class="er" cx="612" cy="1227" rx="16" ry="12"/><text class="t" x="612" y="1230.6">e41</text><text class="v" x="622" y="1209">.99</text></g>
<g id="e42"><ellipse class="er" cx="649.5" cy="1227" rx="16" ry="12"/><text class="t" x="649.5" y="1230.6">e42</text><text class="v" x="659.5" y="1209">.84</text></g>
<g id="e43"><ellipse class="er" cx="686" cy="1227" rx="16" ry="12"/><text class="t" x="686" y="1230.6">e43</text><text class="v" x="696" y="1209">.95</text></g>
<g id="e44"><ellipse class="er" cx="723" cy="1227" rx="16" ry="12"/><text class="t" x="723" y="1230.6">e44</text><text class="v" x="731" y="1209">1.00</text></g>
<g id="e45"><ellipse class="er" cx="760" cy="1227" rx="16" ry="12"/><text class="t" x="760" y="1230.6">e45</text><text class="v" x="770" y="1209">.96</text></g>
<g id="e46"><ellipse class="er" cx="797" cy="1227" rx="16" ry="12"/><text class="t" x="797" y="1230.6">e46</text><text class="v" x="805" y="1209">1.00</text></g>
<g id="e47"><ellipse class="er" cx="834" cy="1227" rx="16" ry="12"/><text class="t" x="834" y="1230.6">e47</text><text class="v" x="844" y="1209">.87</text></g>
<g id="e48"><ellipse class="er" cx="872" cy="1227" rx="16" ry="12"/><text class="t" x="872" y="1230.6">e48</text><text class="v" x="882" y="1209">.87</text></g>
<g id="e49"><ellipse class="er" cx="909" cy="1227" rx="16" ry="12"/><text class="t" x="909" y="1230.6">e49</text><text class="v" x="919" y="1209">.85</text></g>
<g id="e50"><ellipse class="er" cx="946" cy="1227" rx="16" ry="12"/><text class="t" x="946" y="1230.6">e50</text><text class="v" x="956" y="1209">.93</text></g>
<g id="e51"><ellipse class="er" cx="982.5" cy="1227" rx="16" ry="12"/><text class="t" x="982.5" y="1230.6">e51</text><text class="v" x="992.5" y="1209">.97</text></g>
</svg>
